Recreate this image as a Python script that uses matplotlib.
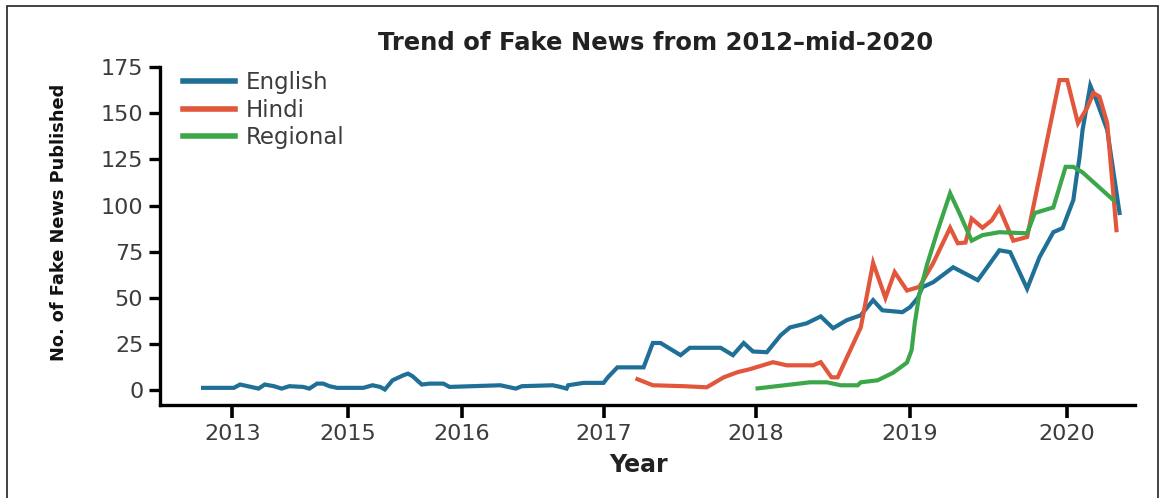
"""
Trend of fake news (English / Hindi / Regional), 2012 - mid-2020.
"""

import matplotlib
matplotlib.use("Agg")
import matplotlib.pyplot as plt
from matplotlib.patches import Rectangle

# ── data (x in fractional axis-years, y = no. of fake news published) ───────
en_x = [2014.41, 2014.61, 2014.65, 2014.70, 2014.77, 2014.81, 2014.87, 2014.92,
        2014.97, 2015.06, 2015.10, 2015.15, 2015.19, 2015.23, 2015.28, 2015.45,
        2015.51, 2015.56, 2015.59, 2015.64, 2015.71, 2015.74, 2015.77, 2015.83,
        2015.88, 2015.97, 2016.01, 2016.34, 2016.39, 2016.44, 2016.48, 2016.68,
        2016.73, 2016.77, 2016.78, 2016.88, 2017.01, 2017.04, 2017.10, 2017.27,
        2017.33, 2017.38, 2017.51, 2017.57, 2017.77, 2017.85, 2017.92, 2017.98,
        2018.07, 2018.16, 2018.22, 2018.33, 2018.42, 2018.50, 2018.59, 2018.68,
        2018.76, 2018.82, 2018.95, 2019.00, 2019.05, 2019.08, 2019.15, 2019.28,
        2019.44, 2019.58, 2019.65, 2019.76, 2019.84, 2019.93, 2019.99, 2020.06,
        2020.08, 2020.10, 2020.12, 2020.17, 2020.21, 2020.28, 2020.36]
en_y = [1.3, 1.3, 3.1, 2.2, 0.9, 3.1, 2.2, 0.9,
        2.2, 1.8, 0.9, 3.6, 3.6, 2.2, 1.3, 1.3,
        2.7, 1.8, 0.4, 5.4, 8.1, 9.0, 7.6, 3.1,
        3.6, 3.6, 1.8, 2.7, 1.8, 0.9, 2.2, 2.7,
        1.8, 0.9, 2.7, 4.0, 4.0, 7.2, 12.4, 12.4,
        25.6, 25.6, 19.0, 23.0, 23.0, 19.0, 25.6, 21.0,
        20.6, 29.8, 34.0, 36.3, 40.0, 33.6, 38.0, 40.6,
        48.8, 43.3, 42.3, 45.0, 50.0, 55.8, 58.5, 66.6,
        59.6, 75.8, 74.8, 55.0, 72.0, 85.6, 87.8, 103.0,
        115.0, 126.0, 141.0, 165.0, 157.0, 141.0, 96.0]

hi_x = [2017.23, 2017.33, 2017.53, 2017.68, 2017.79, 2017.88, 2017.96, 2018.11,
        2018.20, 2018.37, 2018.42, 2018.49, 2018.53, 2018.68, 2018.76, 2018.84,
        2018.90, 2018.98, 2019.06, 2019.15, 2019.26, 2019.31, 2019.36, 2019.40,
        2019.47, 2019.53, 2019.58, 2019.67, 2019.76, 2019.97, 2020.02, 2020.09,
        2020.15, 2020.19, 2020.23, 2020.28, 2020.34]
hi_y = [6.0, 2.7, 2.2, 1.6, 7.0, 9.8, 11.4, 15.2,
        13.5, 13.5, 15.2, 7.0, 7.0, 34.0, 69.0, 50.0,
        64.0, 54.0, 56.0, 68.8, 88.0, 79.6, 80.0, 93.0,
        88.0, 92.0, 98.6, 81.0, 83.0, 168.0, 168.0, 144.6,
        153.0, 161.0, 159.0, 144.6, 86.7]

rg_x = [2018.01, 2018.35, 2018.46, 2018.55, 2018.66, 2018.68, 2018.79, 2018.89,
        2018.98, 2019.01, 2019.03, 2019.06, 2019.11, 2019.18, 2019.26, 2019.32,
        2019.40, 2019.47, 2019.58, 2019.76, 2019.81, 2019.93, 2020.01, 2020.06,
        2020.12, 2020.32]
rg_y = [1.0, 4.3, 4.3, 2.7, 2.7, 4.3, 5.4, 9.5,
        15.0, 21.7, 36.0, 52.0, 68.0, 86.7, 106.7, 96.0,
        81.0, 84.0, 85.6, 85.0, 96.0, 99.0, 121.0, 121.0,
        118.0, 103.0]

tick_pos = [2014.60, 2015.35, 2016.09, 2017.01, 2018.00, 2019.00, 2020.02]
tick_labels = ['2013', '2015', '2016', '2017', '2018', '2019', '2020']
y_ticks = [0, 25, 50, 75, 100, 125, 150, 175]

C_EN = '#1f6f96'
C_HI = '#e2563b'
C_RG = '#3ba74a'
TXT = '#3c3c3c'

fig = plt.figure(figsize=(11.65, 4.98), dpi=100)
ax = fig.add_axes([0.1373, 0.1867, 0.8369, 0.6822])

ax.plot(en_x, en_y, color=C_EN, linewidth=3.0, label='English', solid_joinstyle='miter')
ax.plot(hi_x, hi_y, color=C_HI, linewidth=3.0, label='Hindi', solid_joinstyle='miter')
ax.plot(rg_x, rg_y, color=C_RG, linewidth=3.0, label='Regional', solid_joinstyle='miter')

ax.set_xlim(2014.13, 2020.46)
ax.set_ylim(-8, 176)
ax.set_xticks(tick_pos)
ax.set_xticklabels(tick_labels)
ax.set_yticks(y_ticks)

for side in ('top', 'right'):
    ax.spines[side].set_visible(False)
for side in ('left', 'bottom'):
    ax.spines[side].set_linewidth(2.4)
    ax.spines[side].set_color('black')
ax.spines['left'].set_bounds(-8, 175)

ax.tick_params(axis='x', length=9, width=2.6, pad=5, labelsize=16, labelcolor=TXT)
ax.tick_params(axis='y', length=8, width=2.4, pad=4, labelsize=16, labelcolor=TXT)

ax.set_xlabel('Year', fontsize=17, fontweight='bold', color='#222222')
ax.xaxis.set_label_coords(0.491, -0.14)
ax.set_ylabel('No. of Fake News Published', fontsize=12.8, fontweight='bold',
              color='#111111')
ax.yaxis.set_label_coords(-0.094, 0.539)
ax.text(0.508, 1.066, 'Trend of Fake News from 2012\u2013mid-2020',
        transform=ax.transAxes, ha='center', va='center',
        fontsize=17.5, fontweight='bold', color='#222222')

leg = ax.legend(loc='upper left', bbox_to_anchor=(0.0144, 1.01), frameon=False,
                fontsize=16.5, handlelength=2.27, handletextpad=0.44,
                labelspacing=0.2, borderaxespad=0.0)
for line in leg.get_lines():
    line.set_linewidth(4)
for t in leg.get_texts():
    t.set_color(TXT)

# thin frame round the picture
fig.patches.append(Rectangle((7 / 1165, -0.05), 1151 / 1165, 1.05 - 6 / 498,
                             transform=fig.transFigure, fill=False,
                             edgecolor='#222222', linewidth=1.2))

fig.savefig('out.png', dpi=100)
